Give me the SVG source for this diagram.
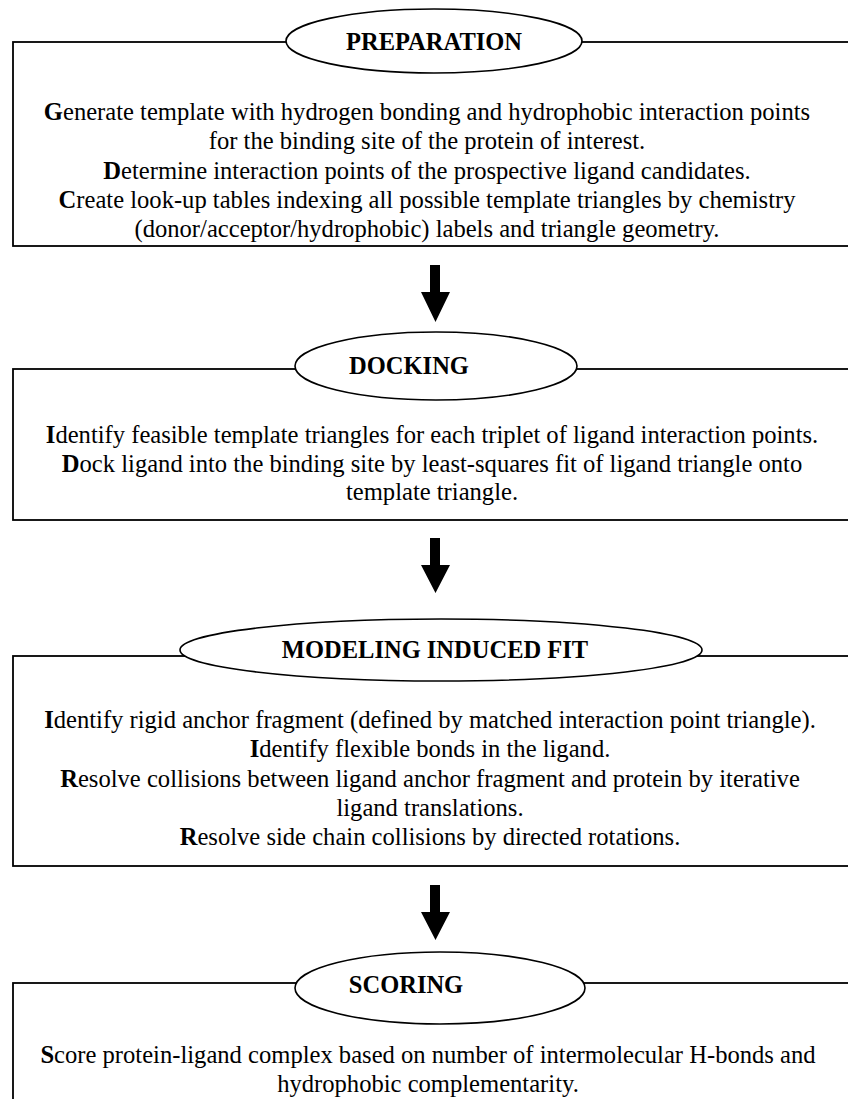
<svg xmlns="http://www.w3.org/2000/svg" width="848" height="1099" viewBox="0 0 848 1099">
<style>
.box{fill:none;stroke:#000;stroke-width:1.8}
.ell{fill:#fff;stroke:#000;stroke-width:1.6}
.hd{font-family:"Liberation Serif","Times New Roman",serif;font-weight:bold;font-size:24.5px;fill:#000;text-anchor:middle}
.tx{font-family:"Liberation Serif","Times New Roman",serif;font-size:24.6px;fill:#000;text-anchor:middle}
.b{font-weight:bold}
.arr{fill:#000;stroke:none}
</style>
<rect width="848" height="1099" fill="#fff"/>
<g id="preparation">
<rect class="box" x="13" y="42" width="850" height="204"/>
<ellipse class="ell" cx="434" cy="41" rx="148" ry="32"/>
<text class="hd" x="434" y="50">PREPARATION</text>
<text class="tx" x="427" y="120"><tspan class="b">G</tspan>enerate template with hydrogen bonding and hydrophobic interaction points</text>
<text class="tx" x="427" y="149">for the binding site of the protein of interest.</text>
<text class="tx" x="427" y="179"><tspan class="b">D</tspan>etermine interaction points of the prospective ligand candidates.</text>
<text class="tx" x="427" y="208"><tspan class="b">C</tspan>reate look-up tables indexing all possible template triangles by chemistry</text>
<text class="tx" x="427" y="237">(donor/acceptor/hydrophobic) labels and triangle geometry.</text>
</g>
<g id="docking">
<rect class="box" x="13" y="369" width="850" height="151"/>
<ellipse class="ell" cx="436" cy="366" rx="141" ry="34"/>
<text class="hd" x="409" y="374">DOCKING</text>
<text class="tx" x="432" y="443"><tspan class="b">I</tspan>dentify feasible template triangles for each triplet of ligand interaction points.</text>
<text class="tx" x="432" y="472"><tspan class="b">D</tspan>ock ligand into the binding site by least-squares fit of ligand triangle onto</text>
<text class="tx" x="432" y="500">template triangle.</text>
</g>
<g id="modeling">
<rect class="box" x="13" y="656" width="850" height="210"/>
<ellipse class="ell" cx="441" cy="650" rx="261" ry="31"/>
<text class="hd" x="435" y="658">MODELING INDUCED FIT</text>
<text class="tx" x="430" y="728"><tspan class="b">I</tspan>dentify rigid anchor fragment (defined by matched interaction point triangle).</text>
<text class="tx" x="430" y="757"><tspan class="b">I</tspan>dentify flexible bonds in the ligand.</text>
<text class="tx" x="430" y="787"><tspan class="b">R</tspan>esolve collisions between ligand anchor fragment and protein by iterative</text>
<text class="tx" x="430" y="816">ligand translations.</text>
<text class="tx" x="430" y="845"><tspan class="b">R</tspan>esolve side chain collisions by directed rotations.</text>
</g>
<g id="scoring">
<rect class="box" x="13" y="983" width="850" height="140"/>
<ellipse class="ell" cx="440" cy="988" rx="145" ry="36"/>
<text class="hd" x="406" y="993">SCORING</text>
<text class="tx" x="428" y="1063"><tspan class="b">S</tspan>core protein-ligand complex based on number of intermolecular H-bonds and</text>
<text class="tx" x="428" y="1092">hydrophobic complementarity.</text>
</g>
<g id="connectors">
<path class="arr" d="M430,265 H440 V292 H450 L435.5,322 L421,292 H430 Z"/>
<path class="arr" d="M430,538 H440 V565 H450 L435.5,593 L421,565 H430 Z"/>
<path class="arr" d="M430,885 H440 V912 H450 L435.5,940 L421,912 H430 Z"/>
</g>
</svg>
